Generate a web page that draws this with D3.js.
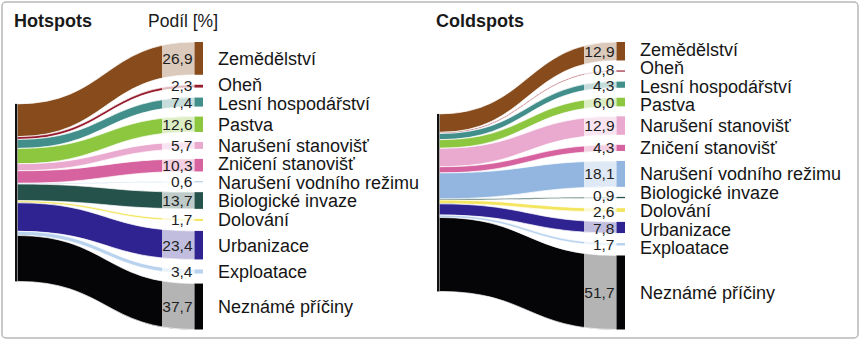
<!DOCTYPE html>
<html>
<head>
<meta charset="utf-8">
<script src="https://cdn.jsdelivr.net/npm/d3@7"></script>
<style>
  body { margin: 0; background: #fff; }
  svg { display: block; }
  text { font-family: "Liberation Sans", Arial, Helvetica, sans-serif; }
</style>
</head>
<body>
<svg id="chart" width="860" height="342"></svg>
<script>
// Causes of threat, shared by both panels (top to bottom)
const causes = [
  "Zemědělství", "Oheň", "Lesní hospodářství", "Pastva",
  "Narušení stanovišť", "Zničení stanovišť", "Narušení vodního režimu",
  "Biologické invaze", "Dolování", "Urbanizace", "Exploatace", "Neznámé příčiny"
];
// Share of each cause [%]
const hotspotShares  = [26.9, 2.3, 7.4, 12.6, 5.7, 10.3, 0.6, 13.7, 1.7, 23.4, 3.4, 37.7];
const coldspotShares = [12.9, 0.8, 4.3, 6.0, 12.9, 4.3, 18.1, 0.9, 2.6, 7.8, 1.7, 51.7];
const causeColors = [
  "#874b1c", "#961c2e", "#418e8b", "#8dc63f", "#eaa9cf", "#d6639f",
  "#92b6df", "#25524a", "#f3e55e", "#2e2391", "#b9d3ee", "#050508"
];
const panelTitles = ["Hotspots", "Coldspots"];
const shareTitle = "Podíl [%]";

const csFormat = d3.formatLocale({ decimal: ",", thousands: " ", grouping: [3], currency: ["", " Kč"] }).format(".1f");

const svg = d3.select("#chart");

// outer frame
svg.append("rect")
  .attr("x", 2).attr("y", 2).attr("width", 856).attr("height", 336)
  .attr("rx", 4)
  .attr("fill", "#fff").attr("stroke", "#b8b8b8").attr("stroke-width", 1.5);

// geometry of one panel (local coordinates)
const G = {
  srcX0: 15, srcX1: 17.3,
  boxX0: 162, nodeX0: 194.5, nodeX1: 203,
  valueX: 192.5, labelX: 218,
  top: 42, bottom: 329.5, pad: 10
};

function layout(values) {
  const total = d3.sum(values);
  const k = (G.bottom - G.top - G.pad * (values.length - 1)) / total;
  const h = d3.scaleLinear().domain([0, total]).range([0, total * k]);
  let y = G.top;
  const nodes = values.map((v, i) => {
    const n = { i, v, y0: y, y1: y + h(v) };
    y = n.y1 + G.pad;
    return n;
  });
  // source bar centred on the value-weighted centre of the targets
  const centre = d3.sum(nodes, n => n.v * (n.y0 + n.y1) / 2) / total;
  const H = h(total);
  let sy = centre - H / 2;
  nodes.forEach(n => { n.sy0 = sy; n.sy1 = sy + h(n.v); sy = n.sy1; });
  return { nodes, sTop: centre - H / 2, sBot: centre + H / 2 };
}

// push text centres apart so the lines do not collide
function spreadLabels(centres, gap) {
  const ys = centres.slice();
  for (let it = 0; it < 200; it++) {
    for (let i = 1; i < ys.length; i++) {
      const d = ys[i] - ys[i - 1];
      if (d < gap) { const m = (gap - d) / 2; ys[i - 1] -= m; ys[i] += m; }
    }
  }
  return ys;
}

const band = d3.area()
  .curve(d3.curveBumpX)
  .x(d => d.x).y0(d => d.y0).y1(d => d.y1);

function drawPanel(idx, values, dx) {
  const g = svg.append("g").attr("transform", `translate(${dx},0)`);
  const L = layout(values);

  g.append("text")
    .attr("x", 14).attr("y", 27)
    .attr("font-size", 18).attr("font-weight", "bold").attr("fill", "#1a1a1a")
    .text(panelTitles[idx]);

  if (idx === 0) {
    g.append("text")
      .attr("x", 148).attr("y", 27)
      .attr("font-size", 17.5).attr("fill", "#1a1a1a")
      .text(shareTitle);
  }

  const bandData = n => [
    { x: G.srcX1, y0: n.sy0, y1: n.sy1 },
    { x: G.nodeX0, y0: n.y0, y1: n.y1 }
  ];

  // flows
  g.append("g").selectAll("path").data(L.nodes).join("path")
    .attr("d", n => band(bandData(n)))
    .attr("fill", n => causeColors[n.i])
    .attr("stroke", "#fff").attr("stroke-width", 0.7);

  // pale tail of each flow behind the value
  const clipId = "box-clip-" + idx;
  g.append("clipPath").attr("id", clipId)
    .append("rect").attr("x", G.boxX0).attr("y", 0)
    .attr("width", G.nodeX0 - G.boxX0).attr("height", 342);
  g.append("g").attr("clip-path", `url(#${clipId})`)
    .selectAll("path").data(L.nodes).join("path")
    .attr("d", n => band(bandData(n)))
    .attr("fill", n => d3.interpolateRgb(causeColors[n.i], "#fff")(0.7))
    .attr("stroke", "#fff").attr("stroke-width", 0.7);

  // source bar
  g.append("rect")
    .attr("x", G.srcX0).attr("y", L.sTop)
    .attr("width", G.srcX1 - G.srcX0).attr("height", L.sBot - L.sTop)
    .attr("fill", "#111");

  // target bars
  g.append("g").selectAll("rect").data(L.nodes).join("rect")
    .attr("x", G.nodeX0).attr("y", n => n.y0)
    .attr("width", G.nodeX1 - G.nodeX0).attr("height", n => Math.max(0.8, n.y1 - n.y0))
    .attr("fill", n => causeColors[n.i]);

  // values
  const vy = spreadLabels(L.nodes.map(n => (n.y0 + n.y1) / 2), 16.5);
  g.append("g").selectAll("text").data(L.nodes).join("text")
    .attr("x", G.valueX).attr("y", (n, i) => vy[i] + 5.5)
    .attr("text-anchor", "end")
    .attr("font-size", 15.5).attr("fill", "#1e1e1e")
    .text(n => csFormat(n.v));

  // cause labels
  const ly = spreadLabels(L.nodes.map(n => (n.y0 + n.y1) / 2), 18.5);
  g.append("g").selectAll("text").data(L.nodes).join("text")
    .attr("x", G.labelX).attr("y", (n, i) => ly[i] + 6.4)
    .attr("font-size", 18).attr("fill", "#151515")
    .text(n => causes[n.i]);
}

drawPanel(0, hotspotShares, 0);
drawPanel(1, coldspotShares, 422);
</script>
</body>
</html>
